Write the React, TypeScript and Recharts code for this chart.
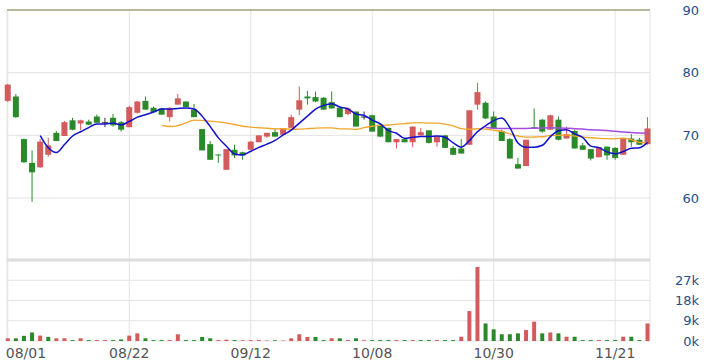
import React from 'react';
import { ComposedChart, Bar, Line, XAxis, YAxis, CartesianGrid, ReferenceLine, Cell } from 'recharts';

// daily candles, 08/01 .. 11/27
const opens = [
  75.5, 76.2, 69.4, 65.6, 64.9, 66.9, 70.4, 69.9, 72.4, 71.9,
  72.2, 73.0, 72.1, 72.8, 72.1, 71.3, 73.6, 75.5, 74.4, 74.3,
  72.9, 74.9, 75.4, 74.1, 71.0, 68.6, 66.95, 64.5, 67.7, 67.3,
  67.7, 68.9, 69.8, 70.5, 70.1, 71.2, 74.1, 76.2, 76.1, 76.0,
  75.3, 74.4, 73.4, 73.8, 73.0, 73.2, 71.7, 71.2, 68.9, 69.4,
  68.9, 70.0, 70.8, 68.9, 70.0, 68.0, 67.9, 68.5, 74.9, 75.2,
  73.0, 70.7, 69.4, 65.4, 65.1, 71.3, 72.5, 70.9, 72.5, 69.5,
  70.7, 68.4, 67.8, 66.5, 68.2, 68.0, 66.9, 69.5, 69.3, 68.6,
];
const highs = [
  78.2, 76.6, 69.5, 67.6, 69.4, 69.6, 70.7, 72.3, 72.8, 72.5,
  72.5, 73.3, 72.8, 73.4, 72.3, 74.7, 75.5, 76.2, 74.6, 74.4,
  74.5, 76.6, 75.4, 75.0, 71.0, 69.1, 66.95, 67.8, 68.5, 67.4,
  69.1, 70.0, 70.4, 71.1, 71.1, 73.3, 77.8, 77.1, 77.0, 76.1,
  77.0, 74.5, 74.5, 73.8, 73.8, 73.3, 71.9, 71.2, 69.4, 69.5,
  71.4, 71.2, 70.8, 69.8, 70.1, 68.3, 69.4, 74.0, 78.4, 75.4,
  73.8, 70.9, 69.6, 66.4, 69.3, 74.3, 72.6, 73.3, 73.0, 71.4,
  70.9, 68.8, 67.8, 68.1, 68.2, 68.1, 69.5, 70.2, 69.6, 72.9,
];
const lows = [
  75.3, 72.8, 65.6, 59.4, 64.8, 66.6, 69.1, 69.9, 70.8, 70.8,
  71.6, 72.0, 71.3, 71.4, 70.6, 71.3, 73.5, 74.1, 73.6, 73.3,
  72.2, 74.9, 74.5, 72.9, 67.6, 66.1, 65.6, 64.5, 66.4, 66.1,
  67.7, 68.9, 69.6, 69.8, 70.1, 71.2, 73.2, 74.9, 75.3, 74.1,
  74.3, 72.9, 73.2, 71.4, 72.5, 70.6, 69.7, 68.9, 67.9, 68.9,
  68.1, 70.0, 68.7, 68.2, 68.0, 66.9, 67.1, 68.5, 74.1, 72.6,
  71.1, 69.1, 66.3, 64.7, 65.1, 71.2, 70.4, 70.9, 69.2, 69.5,
  67.9, 67.7, 66.0, 66.5, 66.1, 66.1, 66.9, 68.2, 68.5, 68.5,
];
const closes = [
  78.1, 72.9, 65.7, 64.1, 69.0, 68.4, 69.1, 72.1, 70.9, 72.4,
  71.7, 72.0, 72.1, 71.6, 70.9, 74.5, 75.4, 74.1, 73.7, 73.3,
  74.4, 75.9, 74.5, 72.9, 67.6, 66.1, 66.9, 67.8, 66.8, 66.8,
  69.0, 70.0, 70.4, 69.8, 71.1, 72.9, 75.6, 75.9, 75.4, 74.1,
  74.3, 72.9, 74.3, 71.4, 73.0, 70.6, 69.8, 68.9, 69.4, 68.9,
  71.4, 70.5, 68.8, 69.8, 68.0, 66.9, 67.1, 74.0, 76.9, 72.7,
  71.1, 69.1, 66.3, 64.7, 69.3, 71.2, 70.6, 73.2, 69.3, 70.2,
  67.9, 67.7, 66.3, 68.1, 66.8, 66.4, 69.5, 68.9, 68.5, 71.1,
];
const volumes = [
  1200, 1200, 2300, 3800, 2400, 1800, 1200, 1200, 400, 1200,
  400, 400, 400, 400, 700, 2400, 3400, 1200, 400, 400,
  400, 3000, 400, 400, 1800, 1200, 400, 600, 400, 300,
  400, 400, 200, 300, 200, 1200, 3000, 1800, 1800, 400,
  1200, 1200, 400, 1200, 300, 400, 400, 400, 400, 400,
  400, 400, 400, 400, 400, 400, 1900, 13300, 32900, 7800,
  5200, 3000, 3000, 3400, 4900, 8600, 3400, 3800, 3400, 1900,
  1900, 400, 400, 400, 400, 400, 1900, 1900, 400, 7800,
];

const tickIdx = [0, 15, 30, 45, 60, 75];
const tickLabels = ['08/01', '08/22', '09/12', '10/08', '10/30', '11/21'];
const priceTicks = [60, 70, 80, 90];
const volTicks = [0, 9000, 18000, 27000];

const UP = '#d25b5b';
const DOWN = '#2a8a2a';
const FLAT = '#333333';
const FONT = '"DejaVu Sans", Verdana, sans-serif';
const W = 709;
const X_DOMAIN: [number, number] = [-0.1, 79.3];

const movingAvg = (n: number) =>
  closes.map((_, i) => {
    if (i < n - 1) return null;
    let s = 0;
    for (let k = i - n + 1; k <= i; k++) s += closes[k];
    return s / n;
  });

const ma5 = movingAvg(5);
const ma20 = movingAvg(20);
const ma60 = movingAvg(60);

const data = closes.map((c, i) => ({
  i,
  open: opens[i],
  high: highs[i],
  low: lows[i],
  close: c,
  range: [lows[i], highs[i]],
  vol: volumes[i],
  volUp: i === 0 || c >= closes[i - 1],
  ma5: ma5[i],
  ma20: ma20[i],
  ma60: ma60[i],
}));

const Candle = (props: any) => {
  const { x, y, width, height, payload } = props;
  const { open, close, high, low } = payload;
  const top = Math.min(y, y + height);
  const h = Math.abs(height);
  const py = (v: number) => (high === low ? top : top + ((high - v) / (high - low)) * h);
  const color = close > open ? UP : close < open ? DOWN : FLAT;
  const cx = x + width / 2;
  const bTop = py(Math.max(open, close));
  const bBot = py(Math.min(open, close));
  return (
    <g>
      <line x1={cx} x2={cx} y1={top} y2={top + h} stroke={color} strokeWidth={1} />
      <rect x={x} y={bTop} width={width} height={Math.max(bBot - bTop, 1)} fill={color} />
    </g>
  );
};

const RightTick = (props: any) => {
  const { y, payload, fmt } = props;
  return (
    <text x={699} y={y} dy="0.35em" textAnchor="end" fontSize={13} fontFamily={FONT} fill="#24508c">
      {fmt(payload.value)}
    </text>
  );
};

const DateTick = (props: any) => {
  const { x, y, payload } = props;
  const k = tickIdx.indexOf(payload.value);
  const first = k === 0;
  return (
    <text
      x={first ? x - 2 : x}
      y={y + 17}
      textAnchor={first ? 'start' : 'middle'}
      fontSize={14}
      fontFamily={FONT}
      fill="#555"
    >
      {tickLabels[k]}
    </text>
  );
};

export default function App() {
  return (
    <div style={{ position: 'absolute', left: 0, top: 0, width: W, height: 364, background: '#fff' }}>
      <div style={{ position: 'absolute', left: 0, top: 0 }}>
        <ComposedChart width={W} height={262} data={data} margin={{ top: 10, right: 0, bottom: 1.3, left: 7 }}>
          <CartesianGrid stroke="#e3e3e3" />
          <XAxis dataKey="i" type="number" domain={X_DOMAIN} ticks={tickIdx} interval={0} hide />
          <YAxis
            orientation="right"
            domain={[50, 90]}
            ticks={priceTicks}
            interval={0}
            width={59}
            axisLine={false}
            tickLine={false}
            tick={<RightTick fmt={(v: number) => String(v)} />}
          />
          <ReferenceLine y={90} stroke="#a8a47c" strokeWidth={1.5} />
          <Bar dataKey="range" barSize={6} shape={<Candle />} isAnimationActive={false} />
          <Line dataKey="ma60" type="monotone" stroke="#a64be0" strokeWidth={1.5} dot={false} activeDot={false} isAnimationActive={false} />
          <Line dataKey="ma20" type="monotone" stroke="#f2a52a" strokeWidth={1.3} dot={false} activeDot={false} isAnimationActive={false} />
          <Line dataKey="ma5" type="monotone" stroke="#1010cc" strokeWidth={1.5} dot={false} activeDot={false} isAnimationActive={false} />
        </ComposedChart>
      </div>
      <div style={{ position: 'absolute', left: 0, top: 255 }}>
        <ComposedChart width={W} height={109} data={data} margin={{ top: 5, right: 0, bottom: 0, left: 7 }}>
          <CartesianGrid stroke="#e3e3e3" />
          <XAxis
            dataKey="i"
            type="number"
            domain={X_DOMAIN}
            ticks={tickIdx}
            interval={0}
            height={23}
            axisLine={false}
            tickLine={false}
            tickSize={0}
            tickMargin={0}
            tick={<DateTick />}
          />
          <YAxis
            orientation="right"
            domain={[0, 36000]}
            ticks={volTicks}
            interval={0}
            width={59}
            axisLine={false}
            tickLine={false}
            tick={<RightTick fmt={(v: number) => `${v / 1000}k`} />}
          />
          <ReferenceLine y={36000} stroke="#dddddd" strokeWidth={3} />
          <Bar dataKey="vol" barSize={4} isAnimationActive={false}>
            {data.map((d) => (
              <Cell key={d.i} fill={d.volUp ? UP : DOWN} />
            ))}
          </Bar>
        </ComposedChart>
      </div>
    </div>
  );
}
